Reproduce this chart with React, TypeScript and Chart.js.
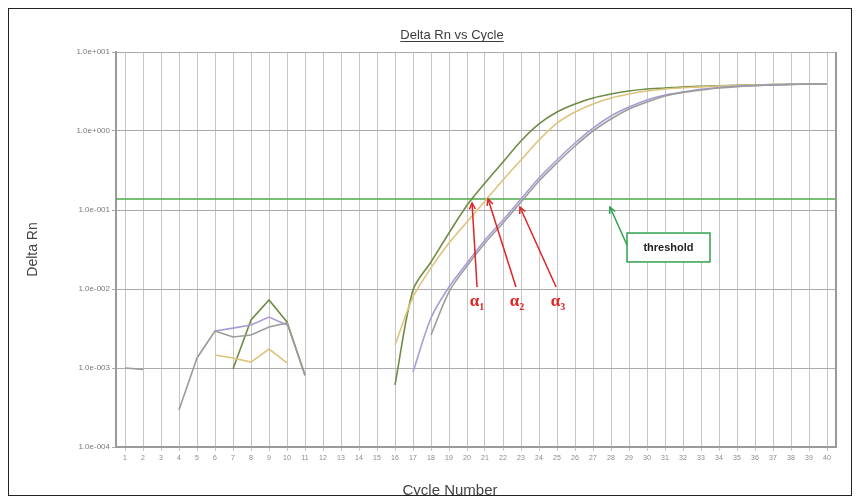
import React, { useEffect, useRef } from "react";
import { Chart, registerables } from "chart.js";

Chart.register(...registerables);

// ---------- data ----------
const cycles = [
  1, 2, 3, 4, 5, 6, 7, 8, 9, 10, 11, 12, 13, 14, 15, 16, 17, 18, 19, 20,
  21, 22, 23, 24, 25, 26, 27, 28, 29, 30, 31, 32, 33, 34, 35, 36, 37, 38, 39, 40,
];
const ampStartCycle = 16;

const greenRn = [
  null, null, null, null, null, null,
  9.7e-4, 4.05e-3, 7.26e-3, 3.82e-3, 8.1e-4,
  null, null, null, null,
  6.1e-4, 9.7e-3, 0.022, 0.0512, 0.115, 0.22, 0.405, 0.747, 1.23, 1.74,
  2.2, 2.62, 2.94, 3.21, 3.4, 3.5, 3.61, 3.68, 3.74, 3.79,
  3.83, 3.87, 3.9, 3.92, 3.94,
];
const yellowRn = [
  null, null, null, null, null,
  1.46e-3, 1.34e-3, 1.19e-3, 1.74e-3, 1.16e-3,
  null, null, null, null, null,
  1.95e-3, 7.9e-3, 0.0185, 0.0382, 0.0705, 0.13, 0.24, 0.43, 0.77, 1.26,
  1.74, 2.2, 2.62, 2.94, 3.21, 3.4, 3.52, 3.62, 3.7, 3.77,
  3.82, 3.86, 3.9, 3.92, 3.94,
];
const purpleRn = [
  null, null, null, null, null,
  2.94e-3, 3.2e-3, 3.5e-3, 4.42e-3, 3.5e-3,
  null, null, null, null, null, null,
  8.9e-4, 4.3e-3, 0.0106, 0.0213, 0.0417, 0.0747, 0.138, 0.254, 0.43,
  0.705, 1.09, 1.55, 2.01, 2.47, 2.86, 3.12, 3.38, 3.56, 3.68,
  3.77, 3.84, 3.89, 3.92, 3.94,
];
const greyRn = [
  1.0e-3, 9.6e-4, null, 2.94e-4, 1.34e-3, 2.94e-3, 2.47e-3, 2.62e-3, 3.3e-3, 3.71e-3, 8.1e-4,
  null, null, null, null, null, null,
  2.62e-3, 9.2e-3, 0.0196, 0.0382, 0.0685, 0.126, 0.233, 0.394,
  0.646, 1.0, 1.42, 1.9, 2.33, 2.77, 3.08, 3.3, 3.5, 3.65,
  3.75, 3.83, 3.88, 3.92, 3.94,
];
const thresholdRn = 0.138;

const yTickValues = [1e-4, 1e-3, 1e-2, 1e-1, 1e0, 1e1];
const xTickValues = cycles;

const titleText = "Delta Rn vs Cycle";
const xTitle = "Cycle Number";
const yTitle = "Delta Rn";
const thresholdLabel = "threshold";

// annotation anchors in data units (cycle, Delta Rn)
const alphaMarks = [
  { sub: "1", labelX: 20.56, tailX: 20.56, tipX: 20.28, tipY: 0.123 },
  { sub: "2", labelX: 22.78, tailX: 22.72, tipX: 21.17, tipY: 0.138 },
  { sub: "3", labelX: 25.06, tailX: 24.95, tipX: 22.94, tipY: 0.109 },
];
const alphaLabelY = 6.85e-3;
const alphaTailY = 0.0106;
const thresholdNote = {
  tipX: 27.94, tipY: 0.109,
  tailX: 28.89, tailY: 0.036,
  boxX0: 28.89, boxX1: 33.5, boxY0: 0.0511, boxY1: 0.022,
};

// ---------- styles ----------
const FONT = 'Arial, "Liberation Sans", sans-serif';
const COLORS = {
  green: "#6f8c45",
  yellow: "#dcc47c",
  purple: "#a99bd6",
  grey: "#9c9c9c",
  threshold: "#4aa84a",
  red: "#e02424",
  noteGreen: "#2ea14f",
};

function fmtExp(v: number) {
  const e = Math.round(Math.log10(v));
  const sign = e < 0 ? "-" : "+";
  return "1.0e" + sign + String(Math.abs(e)).padStart(3, "0");
}

function drawArrow(ctx: CanvasRenderingContext2D, x0: number, y0: number, x1: number, y1: number, color: string) {
  ctx.save();
  ctx.strokeStyle = color;
  ctx.lineWidth = 1.5;
  ctx.beginPath();
  ctx.moveTo(x0, y0);
  ctx.lineTo(x1, y1);
  ctx.stroke();
  const ang = Math.atan2(y1 - y0, x1 - x0);
  const len = 7;
  ctx.beginPath();
  ctx.moveTo(x1 - len * Math.cos(ang - 0.45), y1 - len * Math.sin(ang - 0.45));
  ctx.lineTo(x1, y1);
  ctx.lineTo(x1 - len * Math.cos(ang + 0.45), y1 - len * Math.sin(ang + 0.45));
  ctx.stroke();
  ctx.restore();
}

const overlay = {
  id: "overlay",
  beforeDraw(chart: any) {
    const ctx = chart.ctx;
    ctx.save();
    ctx.fillStyle = "#ffffff";
    ctx.fillRect(0, 0, chart.width, chart.height);
    ctx.restore();
  },
  afterDatasetsDraw(chart: any) {
    const { ctx, chartArea, scales } = chart;
    const x = scales.x;
    const y = scales.y;
    // plot right border
    ctx.save();
    ctx.strokeStyle = "#9a9a9a";
    ctx.lineWidth = 2;
    ctx.beginPath();
    ctx.moveTo(chartArea.right, chartArea.top);
    ctx.lineTo(chartArea.right, chartArea.bottom);
    ctx.stroke();
    ctx.restore();

    // alpha arrows + labels
    for (const m of alphaMarks) {
      drawArrow(
        ctx,
        x.getPixelForValue(m.tailX), y.getPixelForValue(alphaTailY),
        x.getPixelForValue(m.tipX), y.getPixelForValue(m.tipY),
        COLORS.red
      );
      const lx = x.getPixelForValue(m.labelX);
      const ly = y.getPixelForValue(alphaLabelY);
      ctx.save();
      ctx.fillStyle = COLORS.red;
      ctx.textBaseline = "middle";
      ctx.font = 'bold 17px "Liberation Serif", "DejaVu Serif", serif';
      const aw = ctx.measureText("α").width;
      ctx.font = 'bold 10px "Liberation Serif", "DejaVu Serif", serif';
      const sw = ctx.measureText(m.sub).width;
      const start = lx - (aw + sw) / 2;
      ctx.font = 'bold 17px "Liberation Serif", "DejaVu Serif", serif';
      ctx.textAlign = "left";
      ctx.fillText("α", start, ly);
      ctx.font = 'bold 10px "Liberation Serif", "DejaVu Serif", serif';
      ctx.fillText(m.sub, start + aw, ly + 5);
      ctx.restore();
    }

    // threshold note
    const n = thresholdNote;
    drawArrow(
      ctx,
      x.getPixelForValue(n.tailX), y.getPixelForValue(n.tailY),
      x.getPixelForValue(n.tipX), y.getPixelForValue(n.tipY),
      COLORS.noteGreen
    );
    const bx0 = x.getPixelForValue(n.boxX0);
    const bx1 = x.getPixelForValue(n.boxX1);
    const by0 = y.getPixelForValue(n.boxY0);
    const by1 = y.getPixelForValue(n.boxY1);
    ctx.save();
    ctx.fillStyle = "#ffffff";
    ctx.fillRect(bx0, by0, bx1 - bx0, by1 - by0);
    ctx.strokeStyle = COLORS.noteGreen;
    ctx.lineWidth = 1.5;
    ctx.strokeRect(bx0, by0, bx1 - bx0, by1 - by0);
    ctx.fillStyle = "#222";
    ctx.font = "bold 11px " + FONT;
    ctx.textAlign = "center";
    ctx.textBaseline = "middle";
    ctx.fillText(thresholdLabel, (bx0 + bx1) / 2, (by0 + by1) / 2);
    ctx.restore();
  },
  afterDraw(chart: any) {
    const { ctx, chartArea } = chart;
    const cx = (chartArea.left + chartArea.right) / 2;
    ctx.save();
    // title
    ctx.font = "13px " + FONT;
    ctx.fillStyle = "#3c3c3c";
    ctx.textAlign = "center";
    ctx.textBaseline = "alphabetic";
    const tx = cx - 24;
    const ty = chartArea.top - 13;
    ctx.fillText(titleText, tx, ty);
    const tw = ctx.measureText(titleText).width;
    ctx.strokeStyle = "#3c3c3c";
    ctx.lineWidth = 1;
    ctx.beginPath();
    ctx.moveTo(tx - tw / 2, ty + 2.5);
    ctx.lineTo(tx + tw / 2, ty + 2.5);
    ctx.stroke();
    // x title
    ctx.font = "15px " + FONT;
    ctx.fillStyle = "#444";
    ctx.textBaseline = "middle";
    ctx.fillText(xTitle, cx - 26, chartArea.bottom + 44);
    // y title
    ctx.translate(24, (chartArea.top + chartArea.bottom) / 2);
    ctx.rotate(-Math.PI / 2);
    ctx.font = "14px " + FONT;
    ctx.fillText(yTitle, 0, 0);
    ctx.restore();
  },
};

export default function App() {
  const ref = useRef<HTMLCanvasElement>(null);

  useEffect(() => {
    const canvas = ref.current;
    if (!canvas) return;

    const part = (vals: (number | null)[], amp: boolean) =>
      cycles.map((c, i) => ({
        x: c,
        y: (amp ? c >= ampStartCycle : c < ampStartCycle) ? vals[i] : null,
      }));

    const series = [
      { vals: greyRn, color: COLORS.grey },
      { vals: purpleRn, color: COLORS.purple },
      { vals: yellowRn, color: COLORS.yellow },
      { vals: greenRn, color: COLORS.green },
    ];

    const datasets: any[] = [];
    for (const s of series) {
      datasets.push({
        data: part(s.vals, false),
        borderColor: s.color,
        borderWidth: 1.6,
        pointRadius: 0,
        tension: 0,
        spanGaps: false,
      });
      datasets.push({
        data: part(s.vals, true),
        borderColor: s.color,
        borderWidth: 1.6,
        pointRadius: 0,
        tension: 0.3,
        spanGaps: false,
      });
    }
    datasets.push({
      data: [
        { x: 0.5, y: thresholdRn },
        { x: 40.5, y: thresholdRn },
      ],
      borderColor: COLORS.threshold,
      borderWidth: 1.5,
      pointRadius: 0,
      tension: 0,
    });

    const chart = new Chart(canvas, {
      type: "line",
      data: { datasets },
      options: {
        responsive: false,
        animation: false,
        devicePixelRatio: 1,
        layout: { padding: { top: 43, right: 15, left: 0, bottom: 0 } },
        plugins: {
          legend: { display: false },
          title: { display: false },
          tooltip: { enabled: false },
        },
        scales: {
          x: {
            type: "linear",
            min: 0.5,
            max: 40.5,
            afterBuildTicks: (s: any) => {
              s.ticks = xTickValues.map((v) => ({ value: v }));
            },
            afterFit: (s: any) => {
              s.height = 48;
            },
            grid: { color: "#c6c6c6", lineWidth: 1, tickLength: 4, drawTicks: true },
            border: { color: "#9a9a9a", width: 2 },
            ticks: {
              font: { size: 7, family: FONT },
              color: "#8a8a8a",
              padding: 3,
              maxRotation: 0,
              autoSkip: false,
              callback: (v: any) => String(v),
            },
          },
          y: {
            type: "logarithmic",
            min: 1e-4,
            max: 10,
            afterBuildTicks: (s: any) => {
              s.ticks = yTickValues.map((v) => ({ value: v }));
            },
            afterFit: (s: any) => {
              s.width = 107;
            },
            grid: { color: "#acacac", lineWidth: 1, tickLength: 4 },
            border: { color: "#9a9a9a", width: 2 },
            ticks: {
              font: { size: 8, family: FONT },
              color: "#7a7a7a",
              padding: 2,
              autoSkip: false,
              callback: (v: any) => fmtExp(Number(v)),
            },
          },
        },
      } as any,
      plugins: [overlay as any],
    });

    return () => chart.destroy();
  }, []);

  return (
    <div
      style={{
        width: 844,
        height: 488,
        border: "1px solid #222",
        boxSizing: "border-box",
        background: "#fff",
        overflow: "hidden",
      }}
    >
      <canvas ref={ref} width={842} height={486} style={{ display: "block", width: 842, height: 486 }} />
    </div>
  );
}
